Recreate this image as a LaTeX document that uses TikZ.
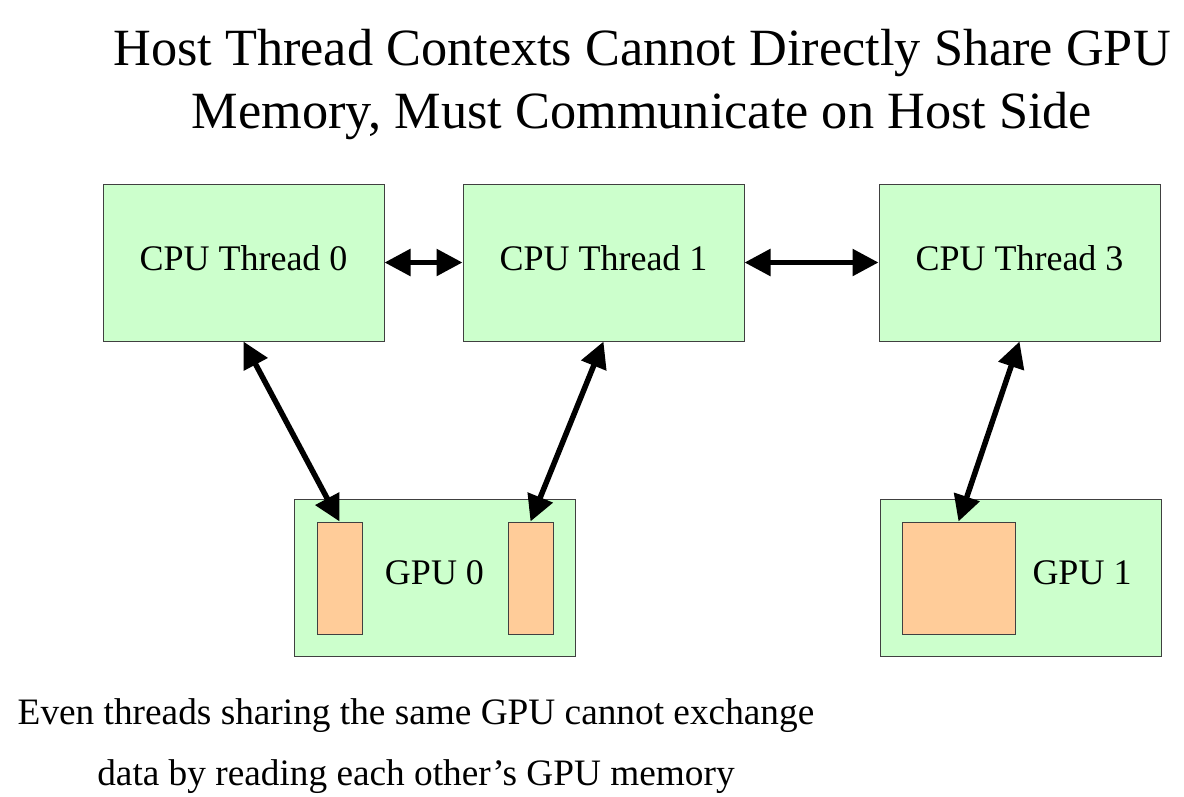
\documentclass[tikz,border=0pt]{standalone}
\usepackage{fontspec}
\setmainfont{Liberation Serif}
\usepackage{xcolor}
\usetikzlibrary{arrows.meta, positioning}

\definecolor{boxgreen}{HTML}{CCFFCC}
\definecolor{memorange}{HTML}{FFCC99}

\begin{document}
\begin{tikzpicture}[
    x=1pt, y=-1pt,
    node distance=78pt,
    box/.style={rectangle, draw=black!75, fill=boxgreen, line width=1pt, minimum width=281pt, minimum height=157pt, inner sep=0pt, align=center, text depth=9pt, font=\fontsize{36}{43}\selectfont},
    mem/.style={rectangle, draw=black!75, fill=memorange, line width=1pt, minimum height=112pt, inner sep=0pt},
    arrow/.style={{Triangle[length=26pt, width=26pt]}-{Triangle[length=26pt, width=26pt]}, line width=5.5pt}
]
\useasboundingbox (0,0) rectangle (1184,796);

\node[font=\fontsize{52.3}{63}\selectfont, align=center, anchor=base] (title) at (642,128) {Host Thread Contexts Cannot Directly Share GPU\\Memory, Must Communicate on Host Side};

\node[box] (cpu0) at (243.5,262.5) {CPU Thread 0};
\node[box, right=of cpu0] (cpu1) {CPU Thread 1};
\node[box, right=134pt of cpu1] (cpu3) {CPU Thread 3};

\node[box] (gpu0) at (434.5,577.5) {GPU 0};
\node[box] (gpu1) at (1020.5,577.5) {};
\node[mem, minimum width=45pt] (mem0a) at (339.5,578) {};
\node[mem, minimum width=45pt] (mem0b) at (530.5,578) {};
\node[mem, minimum width=113pt] (mem1) at (958.5,578) {};
\node[font=\fontsize{36}{43}\selectfont, text depth=9pt] (gpu1lbl) at (1082,577.5) {GPU 1};

\draw[arrow] (cpu0.east) -- (cpu1.west);
\draw[arrow] (cpu1.east) -- (cpu3.west);
\draw[arrow] (cpu0.south) -- (mem0a.north);
\draw[arrow] (cpu1.south) -- (mem0b.north);
\draw[arrow] (cpu3.south) -- (mem1.north);

\node[font=\fontsize{37.3}{61}\selectfont, align=center, anchor=base] (note) at (416,785) {Even threads sharing the same GPU cannot exchange\\data by reading each other’s GPU memory};

\end{tikzpicture}
\end{document}
